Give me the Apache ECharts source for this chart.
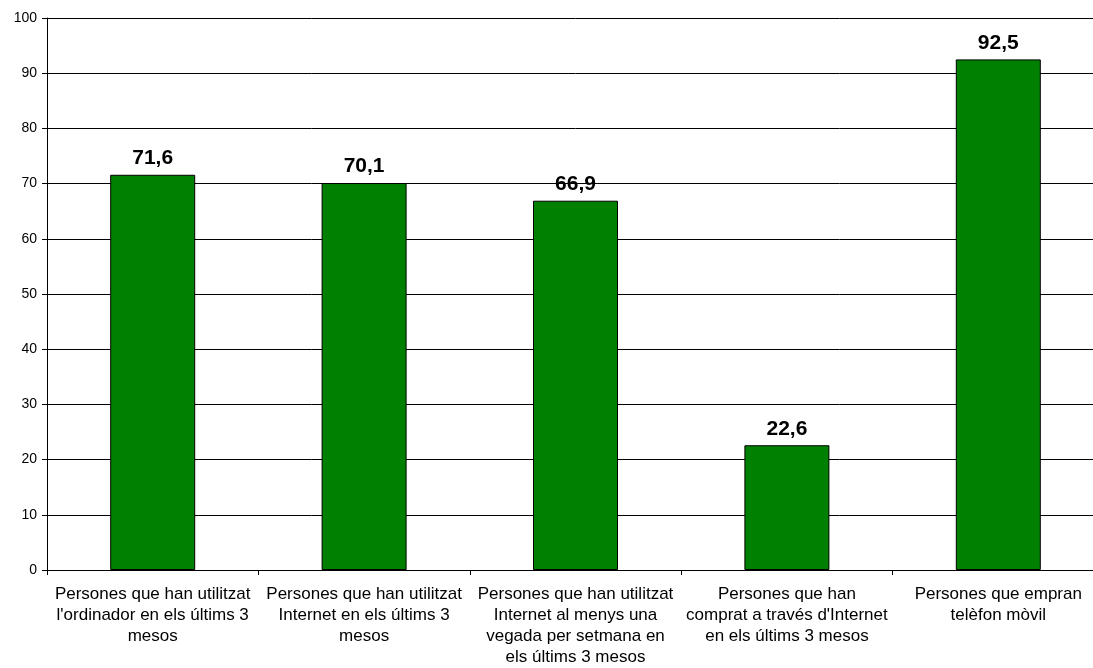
<!DOCTYPE html>
<html><head><meta charset="utf-8">
<script src="https://cdn.jsdelivr.net/npm/echarts@6/dist/echarts.min.js"></script>
<style>html,body{margin:0;padding:0;background:#fff;overflow:hidden;width:1093px;height:668px}#c{width:1105px;height:668px}</style>
</head><body><div id="c"></div>
<script>
var categories = [
  "Persones que han utilitzat\nl'ordinador en els últims 3\nmesos",
  "Persones que han utilitzat\nInternet en els últims 3\nmesos",
  "Persones que han utilitzat\nInternet al menys una\nvegada per setmana en\nels últims 3 mesos",
  "Persones que han\ncomprat a través d'Internet\nen els últims 3 mesos",
  "Persones que empran\ntelèfon mòvil"
];
var values = [71.6, 70.1, 66.9, 22.6, 92.5];
var yMin = 0, yMax = 100, yInterval = 10;

var chart = echarts.init(document.getElementById('c'), null, {renderer:'canvas'});
chart.setOption({
  animation: false,
  backgroundColor: '#fff',
  grid: {left: 47, right: 1, top: 18, bottom: 97, containLabel: false},
  xAxis: {
    type: 'category',
    data: categories,
    axisLine: {lineStyle: {color: '#000', width: 1}},
    axisTick: {show: true, length: 5, lineStyle: {color: '#000'}},
    axisLabel: {interval: 0, color: '#000', fontFamily: 'Arial, Liberation Sans, sans-serif', fontSize: 17, lineHeight: 21, margin: 14, align: 'center'}
  },
  yAxis: {
    type: 'value', min: yMin, max: yMax, interval: yInterval,
    axisLine: {show: true, lineStyle: {color: '#000', width: 1}},
    axisTick: {show: true, length: 5, lineStyle: {color: '#000'}},
    axisLabel: {color: '#000', fontFamily: 'Arial, Liberation Sans, sans-serif', fontSize: 14, margin: 10},
    splitLine: {show: true, lineStyle: {color: '#000', width: 1}}
  },
  series: [{
    type: 'bar',
    data: values,
    barWidth: 85,
    itemStyle: {color: '#008000', borderColor: '#000', borderWidth: 1},
    label: {
      show: true, position: 'top', distance: 6,
      color: '#000', fontWeight: 'bold', fontSize: 21,
      fontFamily: 'Arial, Liberation Sans, sans-serif',
      formatter: function(p){ return String(p.value.toFixed(1)).replace('.', ','); }
    }
  }]
});
</script></body></html>
